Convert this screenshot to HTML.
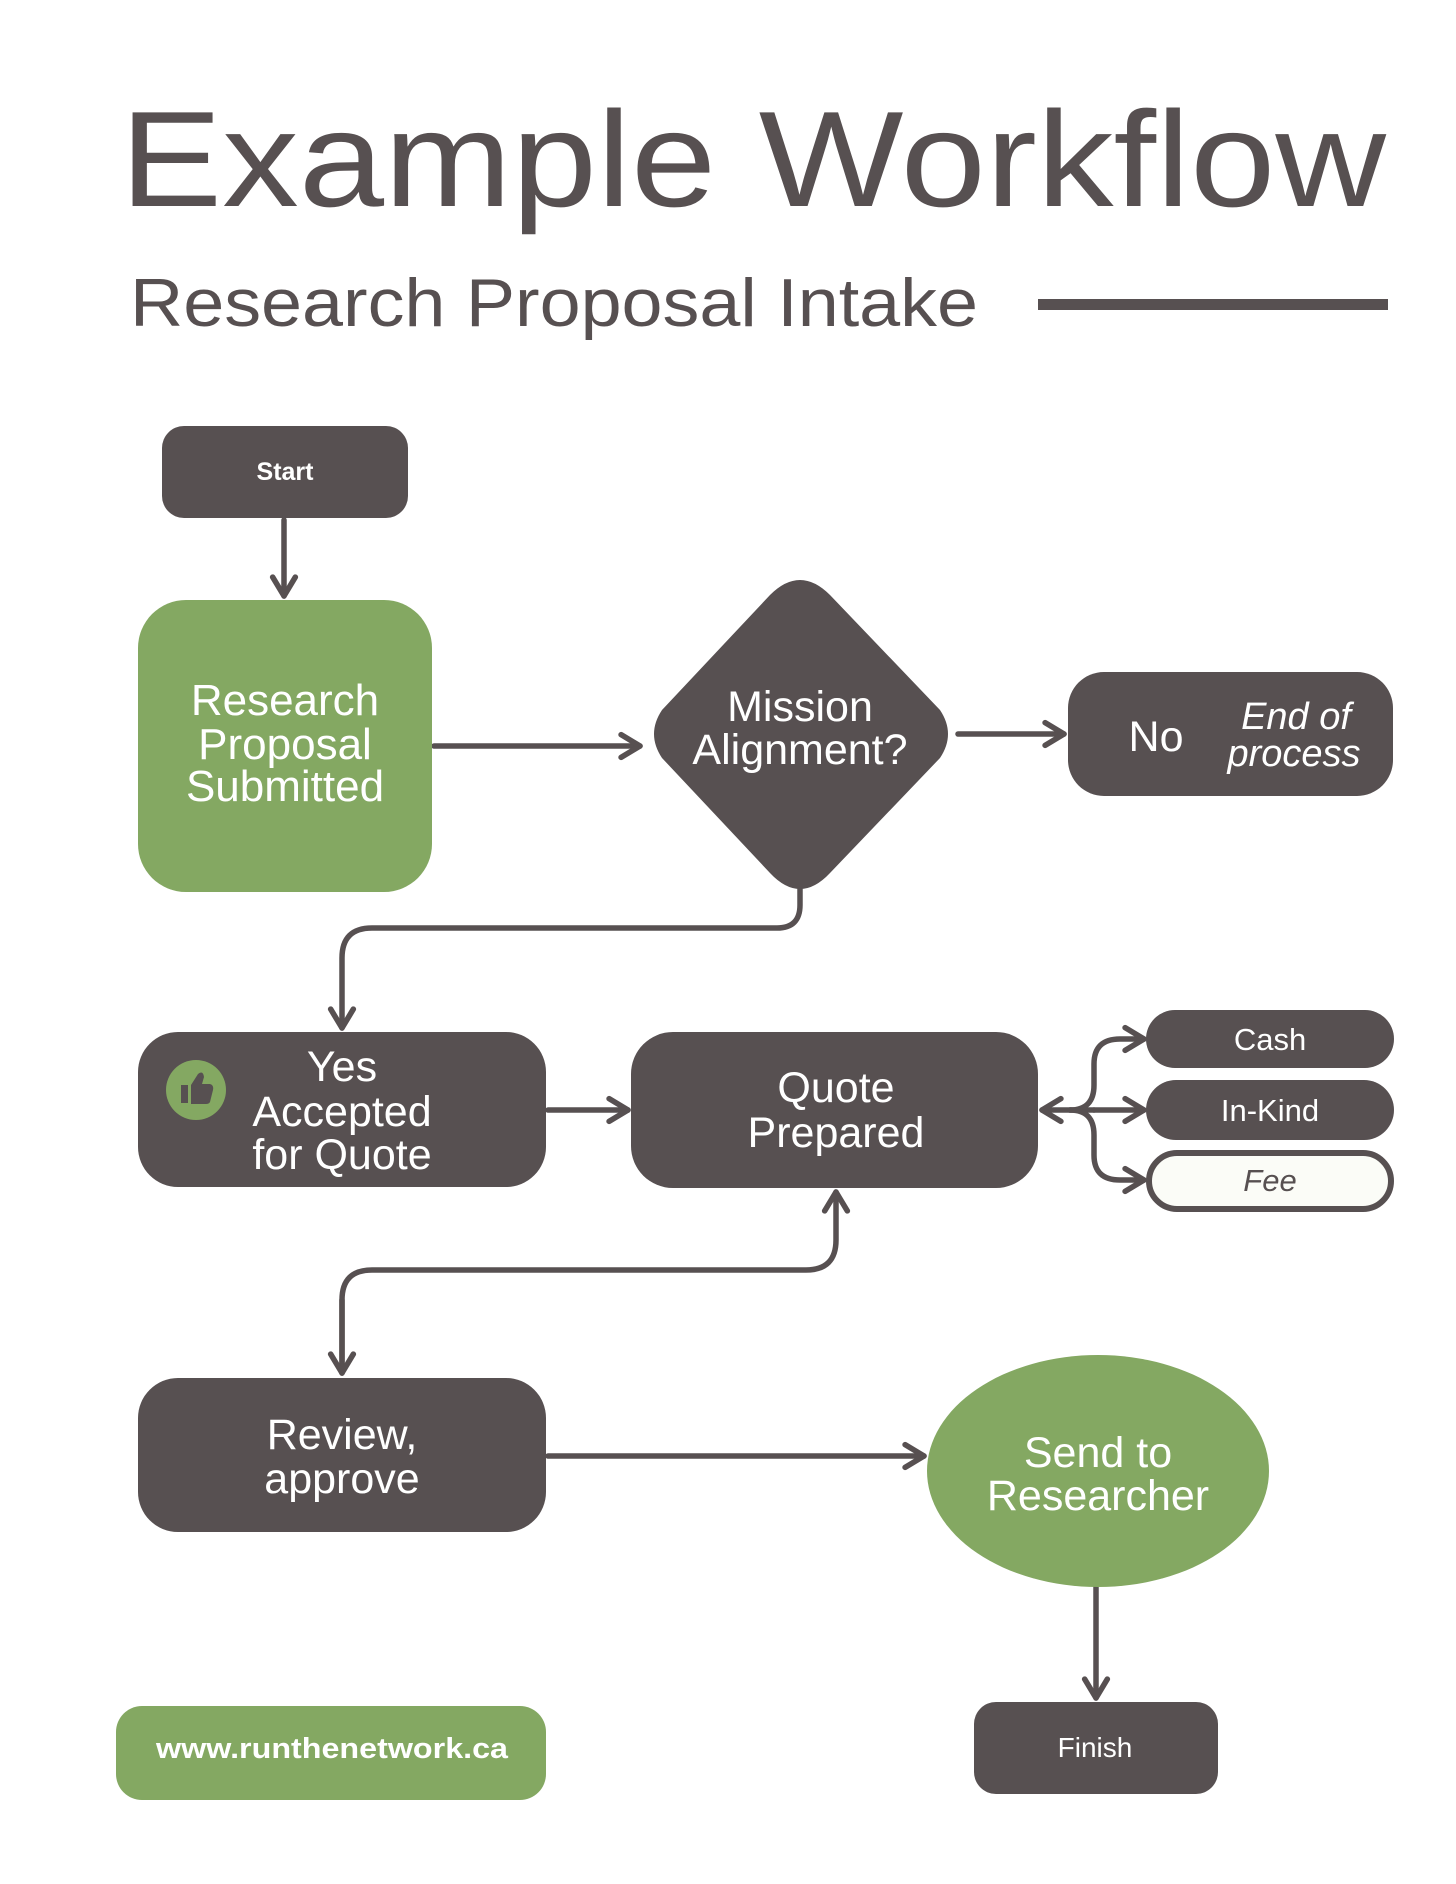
<!DOCTYPE html>
<html><head><meta charset="utf-8"><style>html,body{margin:0;padding:0;background:#fff}svg{display:block}</style></head>
<body>
<svg width="1456" height="1884" viewBox="0 0 1456 1884" xmlns="http://www.w3.org/2000/svg" font-family="Liberation Sans, DejaVu Sans, sans-serif">
<defs>
<marker id="ah" viewBox="0 0 12 12" refX="10" refY="6" markerWidth="5.5" markerHeight="5.5" orient="auto" markerUnits="strokeWidth">
<path d="M2.5 1.5 L10 6 L2.5 10.5" fill="none" stroke="#575051" stroke-width="2.2" stroke-linecap="round" stroke-linejoin="round"/>
</marker>
</defs>
<rect width="1456" height="1884" fill="#fff"/>
<text x="120" y="206" font-size="136" fill="#575051" textLength="1266" lengthAdjust="spacingAndGlyphs">Example Workflow</text>
<text x="130" y="326" font-size="68" fill="#575051" textLength="848" lengthAdjust="spacingAndGlyphs">Research Proposal Intake</text>
<rect x="1038" y="299" width="350" height="11" fill="#575051"/>

<g fill="none" stroke="#575051" stroke-width="5.5" stroke-linecap="round">
<path d="M284 520 V596" marker-end="url(#ah)"/>
<path d="M434 746 H640" marker-end="url(#ah)"/>
<path d="M958 734 H1064" marker-end="url(#ah)"/>
<path d="M800 889 V905 Q800 928 777 928 H372 Q342 928 342 958 V1028" marker-end="url(#ah)"/>
<path d="M548 1110 H628" marker-end="url(#ah)"/>
<path d="M1094 1110 H1042" marker-end="url(#ah)"/>
<path d="M1070 1110 Q1094 1110 1094 1085 V1064 Q1094 1039 1120 1039 H1144" marker-end="url(#ah)"/>
<path d="M1094 1110 H1144" marker-end="url(#ah)"/>
<path d="M1070 1110 Q1094 1110 1094 1135 V1155 Q1094 1180 1120 1180 H1144" marker-end="url(#ah)"/>
<path d="M342 1373 V1300 Q342 1270 372 1270 H806 Q836 1270 836 1240 V1192" marker-end="url(#ah)"/>
<path d="M342 1300 V1373" marker-end="url(#ah)"/>
<path d="M548 1456 H924" marker-end="url(#ah)"/>
<path d="M1096 1587 V1698" marker-end="url(#ah)"/>
</g>

<rect x="162" y="426" width="246" height="92" rx="22" fill="#575051"/>
<text x="285" y="480" font-size="25" font-weight="bold" fill="#fff" text-anchor="middle">Start</text>

<rect x="138" y="600" width="294" height="292" rx="48" fill="#84a862"/>
<g font-size="44" fill="#fff" text-anchor="middle">
<text x="285" y="715">Research</text>
<text x="285" y="759">Proposal</text>
<text x="285" y="801">Submitted</text>
</g>

<path d="M800 580 Q815 580 830 595 L940 710 Q956 734 940 758 L830 873 Q815 889 800 889 Q785 889 770 873 L662 758 Q646 734 662 710 L770 595 Q785 580 800 580 Z" fill="#575051"/>
<g font-size="43" fill="#fff" text-anchor="middle">
<text x="800" y="721">Mission</text>
<text x="800" y="764">Alignment?</text>
</g>

<rect x="1068" y="672" width="325" height="124" rx="36" fill="#575051"/>
<text x="1156" y="751" font-size="43" fill="#fff" text-anchor="middle">No</text>
<g font-size="38" fill="#fff" text-anchor="middle" font-style="italic">
<text x="1296" y="729">End of</text>
<text x="1294" y="766">process</text>
</g>

<rect x="138" y="1032" width="408" height="155" rx="40" fill="#575051"/>
<circle cx="196" cy="1090" r="30" fill="#84a862"/>
<g fill="#575051"><rect x="181" y="1085" width="7" height="18"/><path d="M191 1085 L198 1074 Q203 1070 204 1077 L202 1084 H210 Q214 1085 213 1090 L210 1102 Q209 1104 206 1104 H191 Z"/></g>
<g font-size="43" fill="#fff" text-anchor="middle">
<text x="342" y="1081">Yes</text>
<text x="342" y="1126">Accepted</text>
<text x="342" y="1169">for Quote</text>
</g>

<rect x="631" y="1032" width="407" height="156" rx="42" fill="#575051"/>
<g font-size="43" fill="#fff" text-anchor="middle">
<text x="836" y="1102">Quote</text>
<text x="836" y="1147">Prepared</text>
</g>

<rect x="1146" y="1010" width="248" height="58" rx="29" fill="#575051"/>
<text x="1270" y="1050" font-size="31" fill="#fff" text-anchor="middle">Cash</text>
<rect x="1146" y="1080" width="248" height="60" rx="30" fill="#575051"/>
<text x="1270" y="1121" font-size="31" fill="#fff" text-anchor="middle">In-Kind</text>
<rect x="1149" y="1153" width="242" height="56" rx="28" fill="#fbfcf7" stroke="#575051" stroke-width="6"/>
<text x="1270" y="1191" font-size="31" fill="#575051" font-style="italic" text-anchor="middle">Fee</text>

<rect x="138" y="1378" width="408" height="154" rx="40" fill="#575051"/>
<g font-size="43" fill="#fff" text-anchor="middle">
<text x="342" y="1449">Review,</text>
<text x="342" y="1493">approve</text>
</g>

<ellipse cx="1098" cy="1471" rx="171" ry="116" fill="#84a862"/>
<g font-size="43" fill="#fff" text-anchor="middle">
<text x="1098" y="1467">Send to</text>
<text x="1098" y="1510">Researcher</text>
</g>

<rect x="974" y="1702" width="244" height="92" rx="22" fill="#575051"/>
<text x="1095" y="1757" font-size="28" fill="#fff" text-anchor="middle">Finish</text>

<rect x="116" y="1706" width="430" height="94" rx="26" fill="#84a862"/>
<text x="156" y="1758" font-size="29" font-weight="bold" fill="#fff" textLength="352" lengthAdjust="spacingAndGlyphs">www.runthenetwork.ca</text>
</svg>
</body></html>
